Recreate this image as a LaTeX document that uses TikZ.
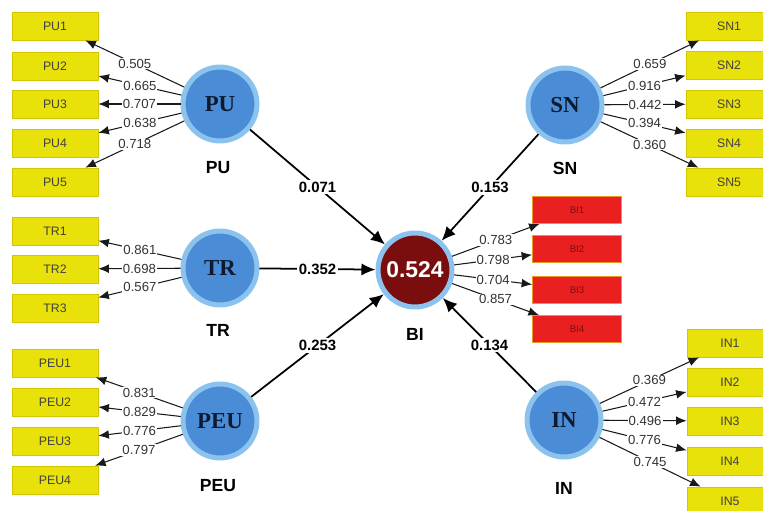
\documentclass[tikz,border=0pt]{standalone}
\usepackage{fontspec}
\setmainfont{Liberation Sans}
\newfontfamily\lvfont{Liberation Serif}
\usepackage{tikz}
\usetikzlibrary{positioning, arrows.meta}

\definecolor{itemyellow}{HTML}{E8E10A}
\definecolor{itemedge}{HTML}{D2C600}
\definecolor{itemred}{HTML}{EA2020}
\definecolor{rededge}{HTML}{E89A20}
\definecolor{lvblue}{HTML}{4A8DD6}
\definecolor{lvring}{HTML}{8CC3EE}
\definecolor{lvtext}{HTML}{0F1A30}
\definecolor{bifill}{HTML}{7A0E0E}

\begin{document}
\begin{tikzpicture}[
    x=0.02cm, y=-0.02cm,
    lv/.style={draw=lvring, fill=lvblue, circle, line width=0.1cm, minimum size=1.48cm, inner sep=0pt, font=\lvfont\fontsize{13}{13}\selectfont\bfseries, text=lvtext},
    dv/.style={lv, fill=bifill, text=white, font=\fontsize{13}{13}\selectfont\bfseries},
    item/.style={draw=itemedge, fill=itemyellow, rectangle, minimum width=1.72cm, minimum height=0.56cm, inner sep=0pt, font=\fontsize{7}{7}\selectfont, text=black!75},
    ritem/.style={item, draw=rededge, fill=itemred, minimum width=1.78cm, minimum height=0.54cm, font=\fontsize{5.5}{5.5}\selectfont, text=bifill},
    lvname/.style={font=\fontsize{10}{10}\selectfont\bfseries},
    loading/.style={-{Latex[length=6pt, width=5pt]}, semithick, black!90},
    inner/.style={-{Latex[length=8pt, width=7pt]}, line width=1pt},
    lbl/.style={fill=white, inner sep=0.6pt, font=\fontsize{7.5}{7.5}\selectfont, text=black!80},
    coef/.style={fill=white, inner sep=1pt, font=\fontsize{8.5}{8.5}\selectfont\bfseries},
]
\useasboundingbox (0,0) rectangle (763,510);
\clip (0,0) rectangle (763,510);

% Latent variables
\node[lv] (PU) at (220, 104) {PU};
\node[lv] (TR) at (220, 268) {TR};
\node[lv] (PEU) at (220, 421) {PEU};
\node[lv] (SN) at (565, 105) {SN};
\node[lv] (IN) at (564, 420) {IN};
\node[dv] (BI) at (415, 270) {0.524};

% Captions
\node[lvname] (cPU) at (218, 168) {PU};
\node[lvname] (cTR) at (218, 330) {TR};
\node[lvname] (cPEU) at (218, 486) {PEU};
\node[lvname] (cSN) at (565, 168) {SN};
\node[lvname] (cIN) at (564, 488) {IN};
\node[lvname] (cBI) at (415, 334) {BI};

% Indicators (left)
\node[item] (PU1) at (55, 26) {PU1};
\node[item] (PU2) at (55, 66) {PU2};
\node[item] (PU3) at (55, 104) {PU3};
\node[item] (PU4) at (55, 143) {PU4};
\node[item] (PU5) at (55, 182) {PU5};
\node[item] (TR1) at (55, 231) {TR1};
\node[item] (TR2) at (55, 269) {TR2};
\node[item] (TR3) at (55, 308) {TR3};
\node[item] (PEU1) at (55, 363) {PEU1};
\node[item] (PEU2) at (55, 402) {PEU2};
\node[item] (PEU3) at (55, 441) {PEU3};
\node[item] (PEU4) at (55, 480) {PEU4};

% Indicators (right)
\node[item] (SN1) at (729, 26) {SN1};
\node[item] (SN2) at (729, 65) {SN2};
\node[item] (SN3) at (729, 104) {SN3};
\node[item] (SN4) at (729, 143) {SN4};
\node[item] (SN5) at (729, 182) {SN5};
\node[item] (IN1) at (730, 343) {IN1};
\node[item] (IN2) at (730, 382) {IN2};
\node[item] (IN3) at (730, 421) {IN3};
\node[item] (IN4) at (730, 461) {IN4};
\node[item] (IN5) at (730, 501) {IN5};
\node[ritem] (BI1) at (577, 210) {BI1};
\node[ritem] (BI2) at (577, 249) {BI2};
\node[ritem] (BI3) at (577, 290) {BI3};
\node[ritem] (BI4) at (577, 329) {BI4};

% Inner model
\draw[inner] (PU) -- node[coef] {0.071} (BI);
\draw[inner] (TR) -- node[coef] {0.352} (BI);
\draw[inner] (PEU) -- node[coef] {0.253} (BI);
\draw[inner] (SN) -- node[coef] {0.153} (BI);
\draw[inner] (IN) -- node[coef] {0.134} (BI);

% Outer loadings
\draw[loading] (PU) -- node[lbl] {0.505} (PU1);
\draw[loading] (PU) -- node[lbl] {0.665} (PU2);
\draw[loading] (PU) -- node[lbl] {0.707} (PU3);
\draw[loading] (PU) -- node[lbl] {0.638} (PU4);
\draw[loading] (PU) -- node[lbl] {0.718} (PU5);
\draw[loading] (TR) -- node[lbl] {0.861} (TR1);
\draw[loading] (TR) -- node[lbl] {0.698} (TR2);
\draw[loading] (TR) -- node[lbl] {0.567} (TR3);
\draw[loading] (PEU) -- node[lbl] {0.831} (PEU1);
\draw[loading] (PEU) -- node[lbl] {0.829} (PEU2);
\draw[loading] (PEU) -- node[lbl] {0.776} (PEU3);
\draw[loading] (PEU) -- node[lbl] {0.797} (PEU4);
\draw[loading] (SN) -- node[lbl] {0.659} (SN1);
\draw[loading] (SN) -- node[lbl] {0.916} (SN2);
\draw[loading] (SN) -- node[lbl] {0.442} (SN3);
\draw[loading] (SN) -- node[lbl] {0.394} (SN4);
\draw[loading] (SN) -- node[lbl] {0.360} (SN5);
\draw[loading] (IN) -- node[lbl] {0.369} (IN1);
\draw[loading] (IN) -- node[lbl] {0.472} (IN2);
\draw[loading] (IN) -- node[lbl] {0.496} (IN3);
\draw[loading] (IN) -- node[lbl] {0.776} (IN4);
\draw[loading] (IN) -- node[lbl] {0.745} (IN5);
\draw[loading] (BI) -- node[lbl] {0.783} (BI1);
\draw[loading] (BI) -- node[lbl] {0.798} (BI2);
\draw[loading] (BI) -- node[lbl] {0.704} (BI3);
\draw[loading] (BI) -- node[lbl] {0.857} (BI4);
\end{tikzpicture}
\end{document}
